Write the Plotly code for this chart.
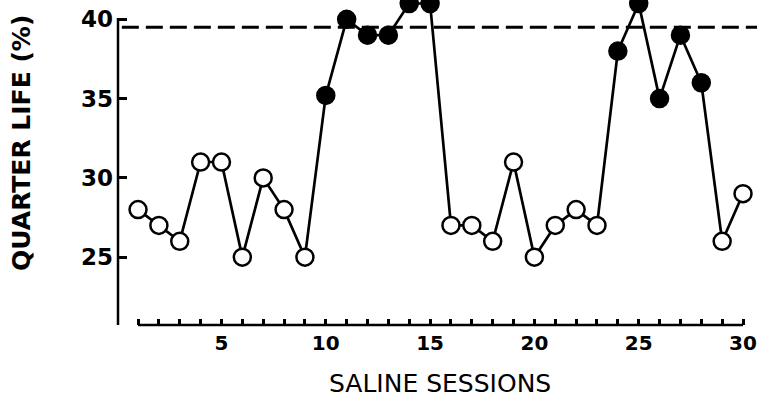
import plotly.graph_objects as go

# Quarter-life (%) per saline session; filled markers flag the high-quarter-life sessions
sessions = list(range(1, 31))
quarter_life = [28, 27, 26, 31, 31, 25, 30, 28, 25, 35.2,
                40, 39, 39, 41, 41, 27, 27, 26, 31, 25,
                27, 28, 27, 38, 41, 35, 39, 36, 26, 29]
filled = [0, 0, 0, 0, 0, 0, 0, 0, 0, 1,
          1, 1, 1, 1, 1, 0, 0, 0, 0, 0,
          0, 0, 0, 1, 1, 1, 1, 1, 0, 0]
reference_level = 39.5
y_ticks = [25, 30, 35, 40]
x_label_every = 5

W, H = 763, 400
L, R, T, B = 118, 6, 0, 75
y_lo, y_axis_top, y_hi = 20.72, 40.09, 41.22

marker_fill = ["black" if f else "white" for f in filled]

fig = go.Figure()

# dashed reference level across the plot
fig.add_shape(type="line", xref="paper", yref="y", x0=0.006, x1=1.0,
              y0=reference_level, y1=reference_level,
              line=dict(color="black", width=3, dash="17px,7px"))

# x axis baseline, spanning first to last session
fig.add_shape(type="line", xref="x", yref="paper", x0=min(sessions), x1=max(sessions),
              y0=0, y1=0, line=dict(color="black", width=2.5))

# y axis line, stopping just above the top tick
fig.add_shape(type="line", xref="paper", yref="y", x0=0, x1=0,
              y0=y_lo, y1=y_axis_top, line=dict(color="black", width=2.5))

fig.add_trace(go.Scatter(
    x=sessions, y=quarter_life, mode="lines+markers",
    line=dict(color="black", width=2.7),
    marker=dict(size=17, color=marker_fill, line=dict(color="black", width=2.5)),
    cliponaxis=False, showlegend=False, hoverinfo="x+y",
))

fig.update_xaxes(
    range=[0.04, 30.67], showline=False, showgrid=False, zeroline=False,
    ticks="inside", ticklen=6, tickwidth=2.5, tickcolor="black",
    tickvals=sessions,
    ticktext=[str(s) if s % x_label_every == 0 else "" for s in sessions],
    ticklabelstandoff=4,
    tickfont=dict(family="DejaVu Sans", size=20, color="black", weight="bold"),
)
fig.update_yaxes(
    range=[y_lo, y_hi], showline=False, showgrid=False, zeroline=False,
    ticks="inside", ticklen=9, tickwidth=2.5, tickcolor="black",
    tickvals=y_ticks, ticklabelstandoff=4,
    tickfont=dict(family="DejaVu Sans", size=23, color="black", weight="bold"),
)

pw, ph = W - L - R, H - T - B
fig.add_annotation(text="QUARTER LIFE (%)", textangle=-90, showarrow=False,
                   xref="paper", yref="paper", xanchor="center", yanchor="middle",
                   x=(22 - L) / pw, y=1 - (143 - T) / ph,
                   font=dict(family="DejaVu Sans", size=25, color="black", weight="bold"))
fig.add_annotation(text="SALINE SESSIONS", showarrow=False,
                   xref="paper", yref="paper", xanchor="center", yanchor="middle",
                   x=(440 - L) / pw, y=(H - B - 383) / ph,
                   font=dict(family="DejaVu Sans", size=25, color="black"))

fig.update_layout(
    width=W, height=H, margin=dict(l=L, r=R, t=T, b=B, pad=0),
    plot_bgcolor="white", paper_bgcolor="white",
)

fig.write_html("out.html")
